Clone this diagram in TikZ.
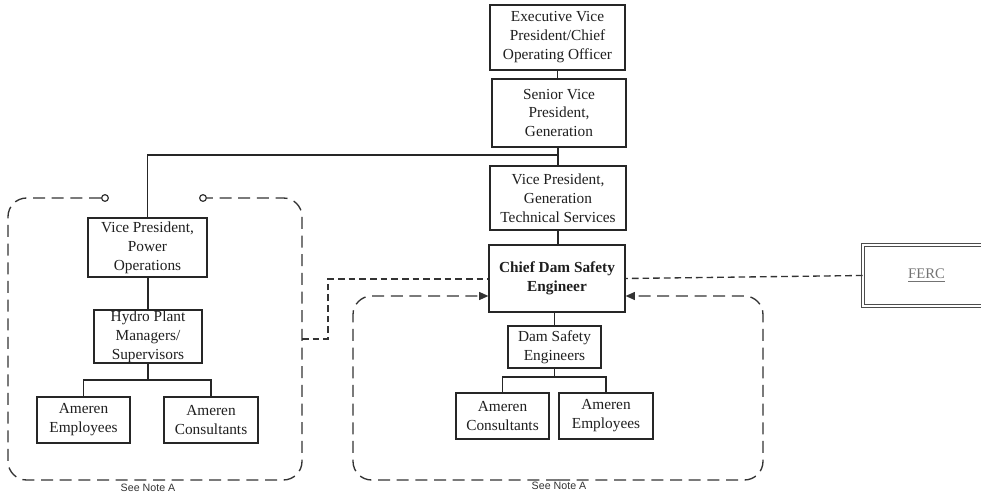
\documentclass[tikz,border=0pt]{standalone}
\usepackage{fontspec}
\setmainfont{Liberation Serif}
\newfontfamily\notefont{Liberation Sans}
\usetikzlibrary{arrows.meta}
\begin{document}
\begin{tikzpicture}[x=0.75pt,y=-0.75pt,
  line width=0.9pt, draw=black!85, text=black!88,
  every node/.style={font=\fontsize{11.5}{14.2}\selectfont},
  box/.style={draw=black!85, line width=0.9pt, align=center, inner sep=0pt, fill=white},
  wh/.style 2 args={minimum width=#1*0.75pt, minimum height=#2*0.75pt},
  dbox/.style={draw=black!80, line width=1pt, dash pattern=on 9pt off 5pt, rounded corners=14pt},
  dline/.style={draw=black!80, line width=1pt, dash pattern=on 5pt off 3pt},
  tipA/.style={-{Triangle[length=7pt,width=6pt]}},
  circ/.style={circle, draw=black!80, line width=0.9pt, fill=white, inner sep=0pt, minimum size=5pt},
  note/.style={font=\notefont\fontsize{8}{9}\selectfont, text=black!80, inner sep=0.5pt}
]
\useasboundingbox (0,0) rectangle (981,495);

% centre column
\node[box, wh={135}{65}] (exec) at (557.5,37.5) {Executive Vice\\President/Chief\\Operating Officer};
\node[box, wh={134}{68}] (svp) at (559,113) {Senior Vice\\President,\\Generation};
\node[box, wh={136}{64}] (vpgts) at (558,198) {Vice President,\\Generation\\Technical Services};
\node[box, wh={136}{67}, font=\fontsize{11.5}{14.2}\selectfont\bfseries] (chief) at (557,278.5) {Chief Dam Safety\\Engineer};
\node[box, wh={93}{42}] (dse) at (554.5,347) {Dam Safety\\Engineers};
\node[box, wh={93}{46}] (acr) at (502.5,416) {Ameren\\Consultants};
\node[box, wh={94}{46}] (aer) at (606,416) {Ameren\\Employees};

% left column
\node[box, wh={119}{59}] (vppo) at (147.5,247.5) {Vice President,\\Power\\Operations};
\node[box, wh={108}{53}] (hydro) at (148,336.5) {Hydro Plant\\Managers/\\Supervisors};
\node[box, wh={93}{46}] (ael) at (83.5,420) {Ameren\\Employees};
\node[box, wh={94}{46}] (acl) at (211,420) {Ameren\\Consultants};

% FERC
\node[draw=black!70, line width=0.7pt, double, double distance=1.3pt, wh={127}{61}, inner sep=0pt, text=black!55,
      font=\fontsize{11}{13}\selectfont] (ferc) at (926.5,275.5) {\underline{FERC}};

% solid connectors
\coordinate (j1) at (558,155);
\draw (exec.south) -- (exec.south |- svp.north);
\draw (vpgts.north |- svp.south) -- (vpgts.north);
\draw (j1) -| (vppo.north);
\draw (vpgts.south) -- (vpgts.south |- chief.north);
\draw (dse.north |- chief.south) -- (dse.north);
\coordinate (b2) at (554.5,377);
\draw (dse.south) -- (b2);
\draw (acr.north) |- (b2) -| (aer.north);
\draw (hydro.north |- vppo.south) -- (hydro.north);
\coordinate (b1) at (148,380);
\draw (hydro.south) -- (b1);
\draw (ael.north) |- (b1) -| (acl.north);

% left dashed group
\node[circ] (o1) at (105,198) {};
\node[circ] (o2) at (203,198) {};
\draw[dbox] (o1.west) -- (8,198) -- (8,480) -- (302,480) -- (302,198) -- (o2.east);
\node[note] (n1) at (148,487.5) {See Note A};

% right dashed group
\coordinate (rb) at (558,480);
\draw[dbox, tipA] (rb) -- (353,480) -- (353,296) -- (chief.west |- 0,296);
\draw[dbox, tipA] (rb) -- (763,480) -- (763,296) -- (chief.east |- 0,296);
\node[note] (n2) at (559,486) {See Note A};

% dashed links
\coordinate (lk) at (302,339);
\draw[dline] (lk) -- (328,339) -- (328,279) -- (chief.west |- 0,279);
\draw[dline] (ferc.west) -- (chief.east);
\end{tikzpicture}
\end{document}
